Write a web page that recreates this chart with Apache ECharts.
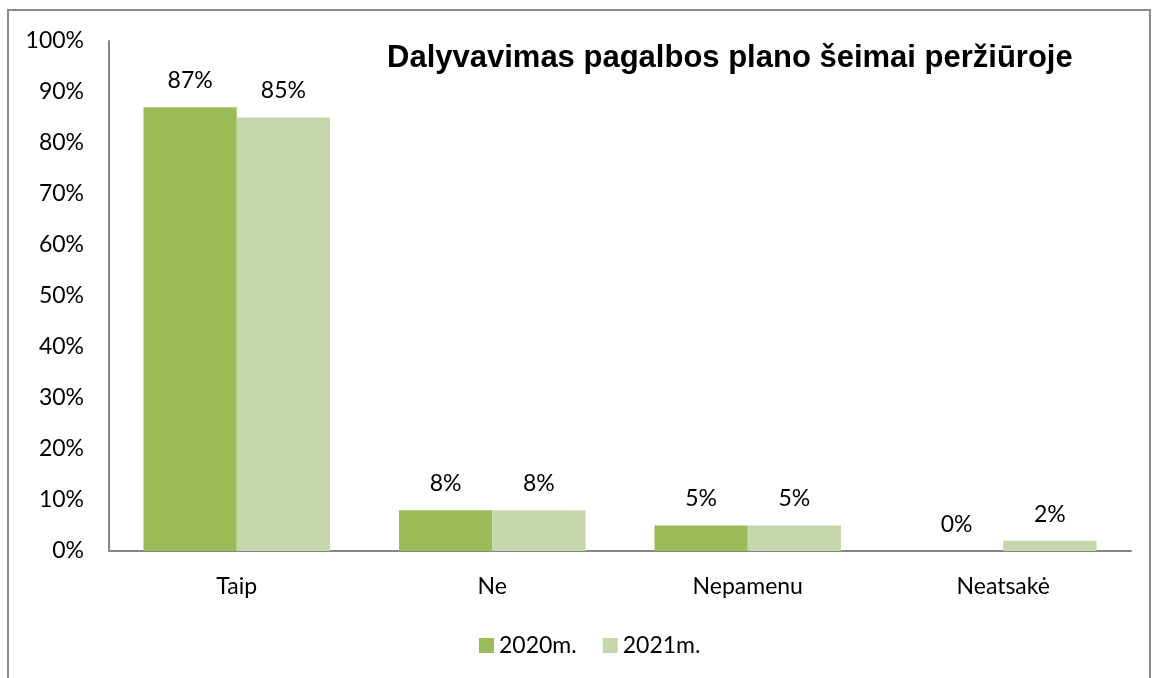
<!DOCTYPE html>
<html>
<head>
<meta charset="utf-8">
<script src="https://cdn.jsdelivr.net/npm/echarts@6/dist/echarts.min.js"></script>
<style>
    html, body { margin: 0; padding: 0; background: #fff; }
    #chart { width: 1160px; height: 678px; }
</style>
</head>
<body>
<div id="chart"></div>
<script>
var categories = ['Taip', 'Ne', 'Nepamenu', 'Neatsakė'];
var values_2020 = [87, 8, 5, 0];
var values_2021 = [85, 8, 5, 2];
var series_names = ['2020m.', '2021m.'];

var font = 'Lato, "Noto Sans", sans-serif';

var chart = echarts.init(document.getElementById('chart'));
var option = {
    animation: false,
    color: ['#9bbb59', '#c4d6aa'],
    title: {
        text: 'Dalyvavimas pagalbos plano šeimai peržiūroje',
        left: 382,
        top: 38,
        textStyle: {
            fontFamily: '"Liberation Sans", Arial, sans-serif',
            fontWeight: 'bold',
            fontSize: 31,
            color: '#000'
        }
    },
    legend: {
        data: series_names,
        left: 474,
        top: 629,
        itemWidth: 15,
        itemHeight: 15,
        itemGap: 26,
        icon: 'rect',
        textStyle: {fontFamily: font, fontSize: 23, color: '#000'}
    },
    grid: {
        left: 109,
        right: 29,
        top: 41,
        bottom: 127
    },
    xAxis: {
        type: 'category',
        data: categories,
        axisLine: {lineStyle: {color: '#868686', width: 2}},
        axisTick: {show: false},
        axisLabel: {fontFamily: font, fontSize: 23, color: '#000', margin: 24}
    },
    yAxis: {
        type: 'value',
        min: 0,
        max: 100,
        interval: 10,
        splitLine: {show: false},
        axisLine: {show: true, lineStyle: {color: '#868686', width: 2}},
        axisTick: {show: false},
        axisLabel: {formatter: '{value}%', fontFamily: font, fontSize: 23, color: '#000', margin: 25}
    },
    series: [
        {
            name: series_names[0],
            type: 'bar',
            data: values_2020,
            barGap: '0%',
            barCategoryGap: '27%',
            label: {show: true, position: 'top', distance: 15, formatter: '{c}%',
                    fontFamily: font, fontSize: 23, color: '#000'}
        },
        {
            name: series_names[1],
            type: 'bar',
            data: values_2021,
            label: {show: true, position: 'top', distance: 15, formatter: '{c}%',
                    fontFamily: font, fontSize: 23, color: '#000'}
        }
    ],
    graphic: [{
        type: 'rect',
        shape: {x: 8, y: 10, width: 1142, height: 700},
        style: {fill: 'none', stroke: '#8c8c8c', lineWidth: 2}
    }]
};
chart.setOption(option);
</script>
</body>
</html>
